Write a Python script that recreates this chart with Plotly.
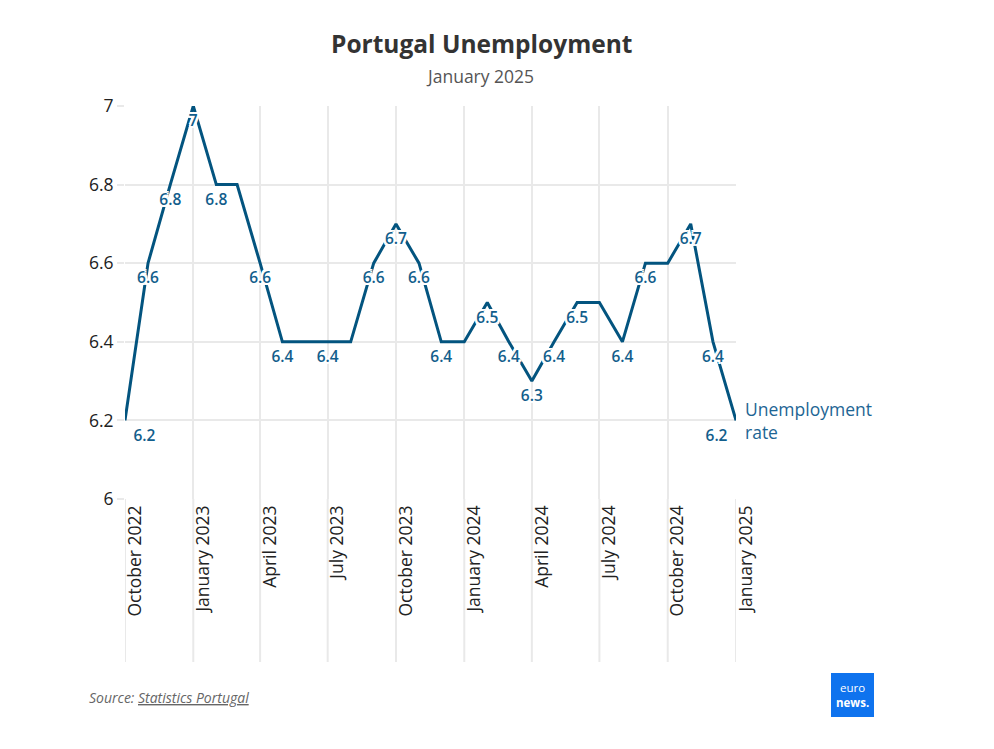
import plotly.graph_objects as go

months = ["2022-10-01", "2022-11-01", "2022-12-01", "2023-01-01", "2023-02-01", "2023-03-01",
          "2023-04-01", "2023-05-01", "2023-06-01", "2023-07-01", "2023-08-01", "2023-09-01",
          "2023-10-01", "2023-11-01", "2023-12-01", "2024-01-01", "2024-02-01", "2024-03-01",
          "2024-04-01", "2024-05-01", "2024-06-01", "2024-07-01", "2024-08-01", "2024-09-01",
          "2024-10-01", "2024-11-01", "2024-12-01", "2025-01-01"]
rate = [6.2, 6.6, 6.8, 7.0, 6.8, 6.8, 6.6, 6.4, 6.4, 6.4, 6.4, 6.6, 6.7, 6.6,
        6.4, 6.4, 6.5, 6.4, 6.3, 6.4, 6.5, 6.5, 6.4, 6.6, 6.6, 6.7, 6.4, 6.2]
show_label = [1, 1, 1, 1, 1, 0, 1, 1, 0, 1, 0, 1, 1, 1,
              1, 0, 1, 1, 1, 1, 1, 0, 1, 1, 0, 1, 1, 1]
tick_dates = ["2022-10-01", "2023-01-01", "2023-04-01", "2023-07-01", "2023-10-01",
              "2024-01-01", "2024-04-01", "2024-07-01", "2024-10-01", "2025-01-01"]
tick_text = ["October 2022", "January 2023", "April 2023", "July 2023", "October 2023",
             "January 2024", "April 2024", "July 2024", "October 2024", "January 2025"]
y_ticks = [6, 6.2, 6.4, 6.6, 6.8, 7]
y_ticktext = ["6", "6.2", "6.4", "6.6", "6.8", "7"]

OFF = 8  # browser body margin
W, H = 994 - 2 * OFF, 749 - 2 * OFF
L, R, T, B = 125 - OFF, 736 - OFF, 106 - OFF, 499 - OFF
FONT = "Open Sans"
BLUE = "#03547f"


def px(xp):
    return (xp - OFF - L) / (R - L)


def py(yp):
    return (B - (yp - OFF)) / (B - T)


labels = [("%g" % v) if s else "" for v, s in zip(rate, show_label)]
positions = ["bottom center"] * len(rate)
positions[0] = "bottom right"
positions[-1] = "bottom left"

halo = ",".join(f"{dx}px {dy}px 0 #fff" for dx, dy in
                [(2, 0), (-2, 0), (0, 2), (0, -2), (2, 2), (-2, -2), (2, -2), (-2, 2)])

fig = go.Figure()
fig.add_trace(go.Scatter(
    x=months, y=rate, mode="lines+markers+text",
    line=dict(color=BLUE, width=3),
    marker=dict(size=12, opacity=0),
    text=labels, textposition=positions,
    textfont=dict(family=FONT, size=15.5, color="#125e8c", weight=600, shadow=halo),
    cliponaxis=False, showlegend=False,
))

fig.update_layout(
    width=W, height=H,
    margin=dict(l=L, r=W - R, t=T, b=H - B, autoexpand=False),
    paper_bgcolor="white", plot_bgcolor="white",
    font=dict(family=FONT, color="#333"),
    xaxis=dict(
        type="date", range=[months[0], months[-1]],
        tickvals=tick_dates, ticktext=tick_text, tickangle=-90,
        tickfont=dict(size=17.5, color="#222"),
        showgrid=True, gridcolor="#e9e9e9", gridwidth=2,
        ticks="", showline=False, zeroline=False,
        ticklabelshift=10, ticklabelstandoff=2,
    ),
    yaxis=dict(
        range=[6, 7], tickvals=y_ticks, ticktext=y_ticktext,
        tickfont=dict(size=17.5, color="#222"),
        showgrid=True, gridcolor="#e9e9e9", gridwidth=2,
        ticks="outside", ticklen=7, tickcolor="#e9e9e9", tickwidth=2,
        ticklabelstandoff=0,
        showline=False, zeroline=False,
    ),
)

# extended vertical gridlines below axis
for d in tick_dates:
    fig.add_shape(type="line", xref="x", yref="paper", x0=d, x1=d,
                  y0=py(662), y1=0, line=dict(color="#e9e9e9", width=2), layer="below")

fig.add_annotation(xref="paper", yref="paper", x=px(481), y=py(43), text="<b>Portugal Unemployment</b>",
                   showarrow=False, font=dict(size=24.5, color="#333"), xanchor="center", yanchor="middle")
fig.add_annotation(xref="paper", yref="paper", x=px(480), y=py(76), text="January 2025",
                   showarrow=False, font=dict(size=17.5, color="#555"), xanchor="center", yanchor="middle")
fig.add_annotation(x=months[-1], y=rate[-1], text="Unemployment<br>rate", showarrow=False,
                   xanchor="left", yanchor="middle", xshift=7, align="left",
                   font=dict(size=17.5, color="#1d6594"))
fig.add_annotation(xref="paper", yref="paper", x=px(87), y=py(697),
                   text="<i>Source: <u>Statistics Portugal</u></i>", showarrow=False,
                   xanchor="left", yanchor="middle", font=dict(size=14, color="#666"))

# euronews logo
fig.add_shape(type="rect", xref="paper", yref="paper", x0=px(831), x1=px(874), y0=py(717), y1=py(673),
              fillcolor="#0f73ee", line=dict(width=0))
fig.add_annotation(xref="paper", yref="paper", x=px(852), y=py(695), text="euro<br><b>news.</b>",
                   showarrow=False, xanchor="center", yanchor="middle",
                   font=dict(size=11.5, color="white"))

fig.write_html("out.html")
